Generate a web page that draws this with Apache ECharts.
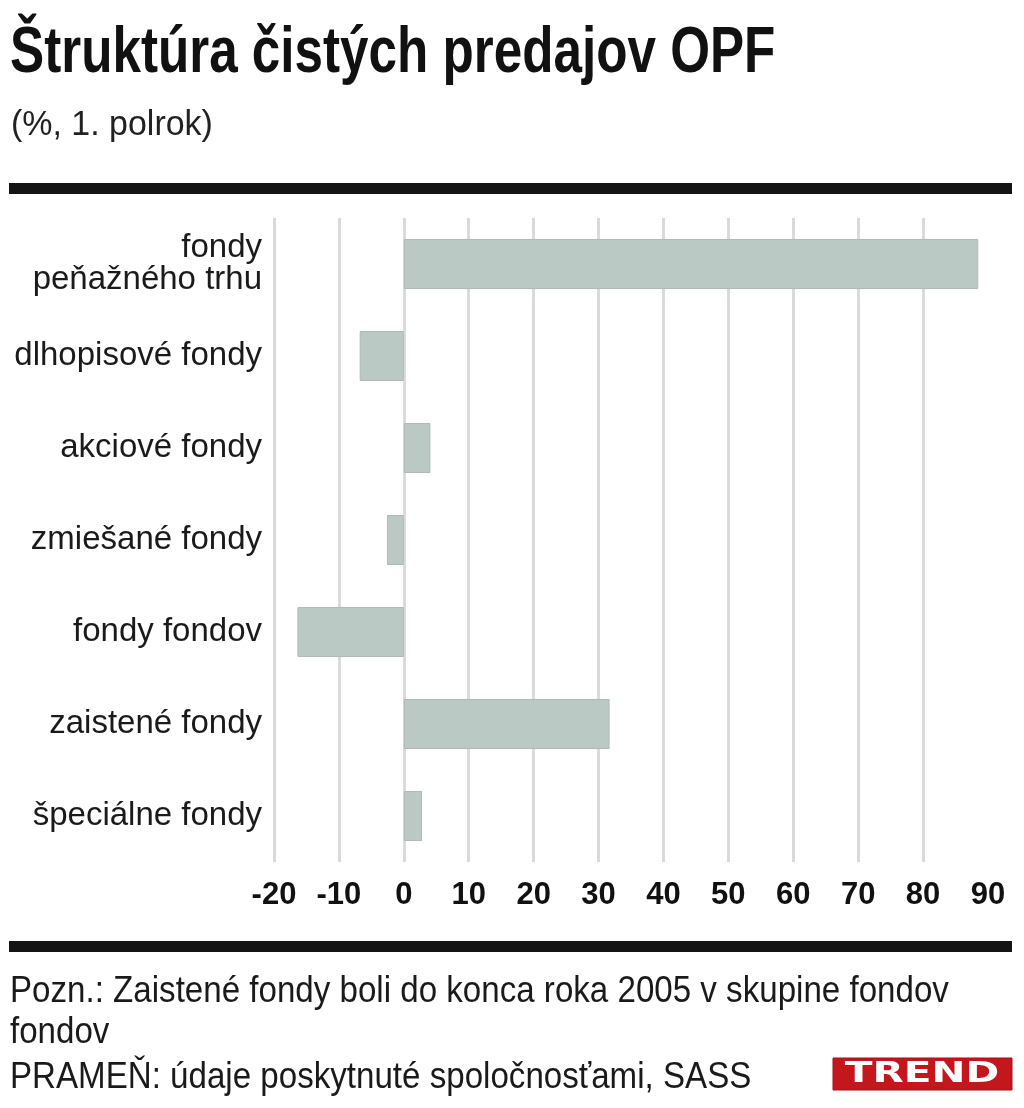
<!DOCTYPE html>
<html>
<head>
<meta charset="utf-8">
<title>Štruktúra čistých predajov OPF</title>
<script src="https://cdn.jsdelivr.net/npm/echarts@6/dist/echarts.min.js"></script>
<style>
  html, body { margin: 0; padding: 0; background: #fff; }
  #divChart { width: 1024px; height: 1108px; }
</style>
</head>
<body>
<div id="divChart"></div>
<script>
//****************************** Data *************************************//

var categories = [
  "fondy\npeňažného trhu",
  "dlhopisové fondy",
  "akciové fondy",
  "zmiešané fondy",
  "fondy fondov",
  "zaistené fondy",
  "špeciálne fondy",
];
var salesShare = [88.5, -6.8, 4.1, -2.6, -16.4, 31.7, 2.8];
var axisMin = -20;
var axisMax = 90;
var axisStep = 10;

var titleText = "Štruktúra čistých predajov OPF";
var subTitleText = "(%, 1. polrok)";
var noteLines = [
  "Pozn.: Zaistené fondy boli do konca roka 2005 v skupine fondov",
  "fondov",
  "PRAMEŇ: údaje poskytnuté spoločnosťami, SASS",
];

var sans = "'Liberation Sans', Arial, sans-serif";

//****************************** Text helper *************************************//

// graphic text squeezed horizontally, there is no narrow font installed
function squeezedText(str, x, y, size, weight, scale, color) {
  return {
    type: "text",
    x: x,
    y: y,
    scaleX: scale,
    style: {
      text: str,
      fontFamily: sans,
      fontWeight: weight,
      fontSize: size,
      fill: color,
      align: "left",
      verticalAlign: "middle",
    },
  };
}

//****************************** Chart *************************************//

function drawChart() {
  var dom = document.getElementById("divChart");
  var myChart = echarts.init(dom, null, { renderer: "canvas" });

  var option = {
    animation: false,
    backgroundColor: "#ffffff",
    grid: { left: 274, right: 36, top: 218, bottom: 246, containLabel: false },
    xAxis: {
      type: "value",
      min: axisMin,
      max: axisMax,
      interval: axisStep,
      axisLine: { show: false },
      axisTick: { show: false },
      axisLabel: {
        margin: 18,
        fontFamily: sans,
        fontWeight: "bold",
        fontSize: 31,
        color: "#111",
      },
      splitLine: {
        show: true,
        showMaxLine: false,
        lineStyle: { color: "#dadada", width: 3 },
      },
    },
    yAxis: {
      type: "category",
      data: categories,
      inverse: true,
      axisLine: { show: false },
      axisTick: { show: false },
      splitLine: { show: false },
      axisLabel: {
        margin: 12,
        fontFamily: sans,
        fontSize: 33,
        lineHeight: 32,
        color: "#1a1a1a",
        align: "right",
      },
    },
    series: [
      {
        type: "bar",
        data: salesShare,
        barWidth: 50,
        itemStyle: { color: "#bac9c3", borderColor: "#aebcb7", borderWidth: 1 },
      },
    ],
    graphic: [
      squeezedText(titleText, 10, 54, 64, "bold", 0.8, "#111"),
      squeezedText(subTitleText, 11, 125, 35, "normal", 0.97, "#222"),
      // top and bottom rules
      { type: "rect", shape: { x: 9, y: 183, width: 1003, height: 11 }, style: { fill: "#141414" } },
      { type: "rect", shape: { x: 9, y: 941, width: 1003, height: 11 }, style: { fill: "#141414" } },
      squeezedText(noteLines[0], 10, 992, 37, "normal", 0.895, "#1a1a1a"),
      squeezedText(noteLines[1], 10, 1033, 37, "normal", 0.895, "#1a1a1a"),
      squeezedText(noteLines[2], 10, 1078, 37, "normal", 0.895, "#1a1a1a"),
      // TREND logo
      { type: "rect", shape: { x: 833, y: 1058, width: 179, height: 32 }, style: { fill: "#c3161d", stroke: "#a51218", lineWidth: 1 } },
      {
        type: "text",
        x: 922,
        y: 1075,
        scaleX: 1.45,
        style: {
          text: "TREND",
          fontFamily: "'DejaVu Sans', sans-serif",
          fontWeight: "bold",
          fontSize: 28,
          fill: "#fff",
          align: "center",
          verticalAlign: "middle",
        },
      },
    ],
  };

  myChart.setOption(option);
  window.addEventListener("resize", myChart.resize);
}

drawChart();
</script>
</body>
</html>
